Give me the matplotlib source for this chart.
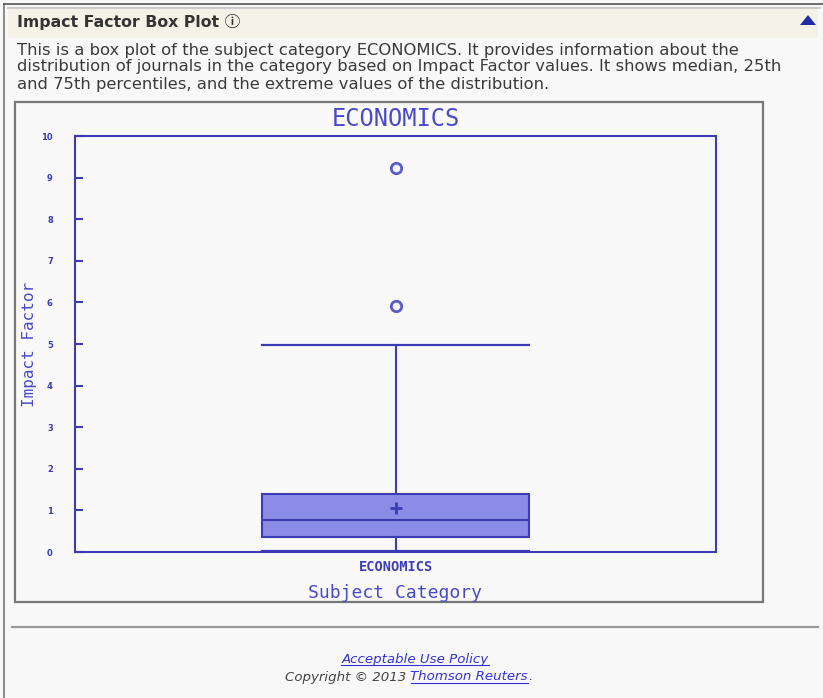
import matplotlib
matplotlib.use("Agg")
import matplotlib.pyplot as plt
from matplotlib.patches import Rectangle, Polygon
from matplotlib.lines import Line2D

# ---- data ----
category = "ECONOMICS"
q1 = 0.36
median = 0.76
q3 = 1.39
mean = 1.06
whisker_low = 0.03
whisker_high = 4.98
outliers = [5.92, 9.22]
y_ticks = [0, 1, 2, 3, 4, 5, 6, 7, 8, 9, 10]

W, H = 823, 698
fig = plt.figure(figsize=(W / 100, H / 100), dpi=100)
fig.patch.set_facecolor("#f8f8f8")
renderer = fig.canvas.get_renderer()

def fx(x):
    return x / W

def fy(y):
    return 1 - y / H

# page border lines
fig.add_artist(Line2D([fx(4), fx(4)], [fy(4), fy(698)], color="#777777", lw=1.2, zorder=-2))
fig.add_artist(Line2D([fx(4), fx(823)], [fy(4), fy(4)], color="#555555", lw=1.2, zorder=-2))
# header band
fig.add_artist(Rectangle((fx(8), fy(38)), fx(812) - fx(2), fy(8) - fy(38),
                         facecolor="#f4f2e6", edgecolor="none", zorder=-3))
fig.add_artist(Line2D([fx(8), fx(820)], [fy(8), fy(8)], color="#cccccc", lw=1.5, zorder=-2))

fig.text(fx(17), fy(22), "Impact Factor Box Plot \u24d8", fontsize=11.3, fontweight="bold",
         color="#333333", va="center", ha="left",
         family=["DejaVu Sans", "Noto Sans CJK JP"])
fig.add_artist(Polygon([[fx(800), fy(25)], [fx(816), fy(25)], [fx(808), fy(15)]],
                       closed=True, facecolor="#1f2fa8", edgecolor="none"))

body_lines = ["This is a box plot of the subject category ECONOMICS. It provides information about the",
              "distribution of journals in the category based on Impact Factor values. It shows median, 25th",
              "and 75th percentiles, and the extreme values of the distribution."]
for i, line in enumerate(body_lines):
    fig.text(fx(17), fy(50 + 17 * i), line, fontsize=11.8, color="#3a3a3a", va="center",
             ha="left", family="DejaVu Sans")

# outer gray frame of the chart image
fig.add_artist(Rectangle((fx(15), fy(602)), fx(763) - fx(15), fy(102) - fy(602),
                         facecolor="#f9f9f9", edgecolor="#777777", lw=1.6, zorder=-1))
# separator line
fig.add_artist(Line2D([fx(12), fx(818)], [fy(627), fy(627)], color="#999999", lw=1.6))

# footer
link = "#3333dd"
fs_foot = 9.6

def underline(t, ypix):
    bb = t.get_window_extent(renderer)
    fig.add_artist(Line2D([bb.x0 / W, bb.x1 / W], [fy(ypix), fy(ypix)], color=link, lw=0.8))
    return bb

t1 = fig.text(fx(415), fy(659), "Acceptable Use Policy", fontsize=fs_foot, style="italic",
              color=link, ha="center", va="center")
underline(t1, 665)
ta = fig.text(fx(285), fy(677), "Copyright \u00a9 2013 ", fontsize=fs_foot, style="italic",
              color="#444444", ha="left", va="center")
bb = ta.get_window_extent(renderer)
tb = fig.text(bb.x1 / W, fy(677), "Thomson Reuters", fontsize=fs_foot, style="italic",
              color=link, ha="left", va="center")
bb2 = underline(tb, 683)
fig.text(bb2.x1 / W, fy(677), ".", fontsize=fs_foot, style="italic", color="#444444",
         ha="left", va="center")

# chart axes
blue = "#3c3cb4"
fill = "#8c8ce6"
ax = fig.add_axes([fx(75), fy(552), fx(716) - fx(75), fy(136) - fy(552)])
ax.set_zorder(2)
ax.set_facecolor("#f9f9f9")
for s in ax.spines.values():
    s.set_color(blue)
    s.set_linewidth(1.5)

stats = [dict(label=category, q1=q1, med=median, q3=q3, mean=mean,
              whislo=whisker_low, whishi=whisker_high, fliers=outliers)]
ax.bxp(stats, positions=[1], widths=0.416, showmeans=True, patch_artist=True,
       capwidths=0.416,
       boxprops=dict(facecolor=fill, edgecolor=blue, linewidth=1.5),
       medianprops=dict(color=blue, linewidth=1.5),
       whiskerprops=dict(color=blue, linewidth=1.5),
       capprops=dict(color=blue, linewidth=1.6),
       meanprops=dict(marker="+", markeredgecolor=blue, markersize=9, markeredgewidth=2),
       flierprops=dict(marker="o", markerfacecolor="none", markeredgecolor="#5a5ac8",
                       markersize=7.5, markeredgewidth=2.0))
ax.set_xlim(0.5, 1.5)
ax.set_ylim(0, 10)
ax.set_yticks(y_ticks)
ax.set_yticklabels([str(v) for v in y_ticks])
ax.tick_params(axis="y", direction="in", length=6, width=1.5, color=blue,
               labelcolor=blue, labelsize=6, pad=16)
for lbl in ax.get_yticklabels():
    lbl.set_fontweight("bold")
ax.tick_params(axis="x", length=0, labelcolor=blue, labelsize=9.8, pad=6)
for lbl in ax.get_xticklabels():
    lbl.set_fontweight("bold")
    lbl.set_family("DejaVu Sans Mono")

ax.set_title(category, family="DejaVu Sans Mono", fontsize=17, color="#4a4ac8", pad=7)
ax.set_xlabel("Subject Category", family="DejaVu Sans Mono", fontsize=13,
              color="#4a4ac8", labelpad=7)
ax.set_ylabel("Impact Factor", family="DejaVu Sans Mono", fontsize=11.5,
              color="#4a4ac8", labelpad=3)

fig.savefig("out.png", dpi=100, facecolor=fig.get_facecolor())
